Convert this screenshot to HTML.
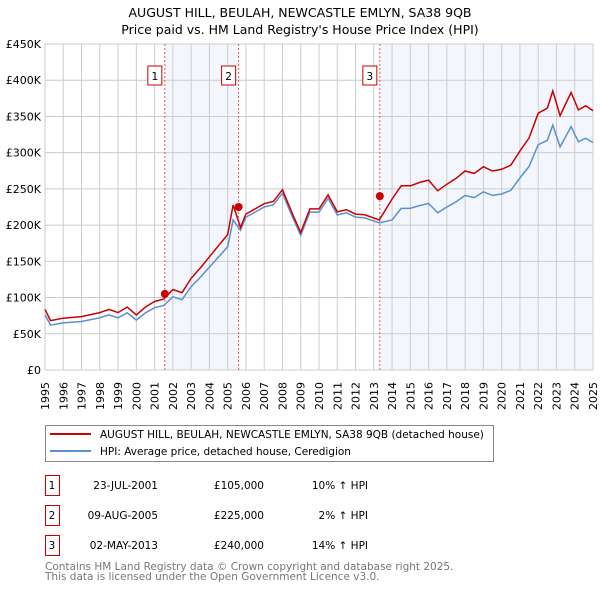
<!DOCTYPE html>
<html><head><meta charset="utf-8"><style>
body{margin:0;background:#fff;font-family:"DejaVu Sans","Liberation Sans",sans-serif;}
svg text{font-family:"DejaVu Sans","Liberation Sans",sans-serif;}
</style></head><body>
<svg id="chart" width="600" height="590" xmlns="http://www.w3.org/2000/svg">
<text x="300" y="17" text-anchor="middle" font-size="12.5">AUGUST HILL, BEULAH, NEWCASTLE EMLYN, SA38 9QB</text>
<text x="300" y="34" text-anchor="middle" font-size="12.5">Price paid vs. HM Land Registry's House Price Index (HPI)</text>
<g id="plot"></g>
<g>
<rect x="45.5" y="425.5" width="448" height="36" fill="#fff" stroke="#888"/>
<line x1="50" y1="434" x2="91" y2="434" stroke="#cc0000" stroke-width="2"/>
<text x="100" y="438" font-size="10.5">AUGUST HILL, BEULAH, NEWCASTLE EMLYN, SA38 9QB (detached house)</text>
<line x1="50" y1="451" x2="91" y2="451" stroke="#5b8fd0" stroke-width="2"/>
<text x="100" y="455" font-size="10.5">HPI: Average price, detached house, Ceredigion</text>
</g>
<g id="table"></g>
<text x="45" y="570" font-size="10.5" fill="#777">Contains HM Land Registry data © Crown copyright and database right 2025.</text>
<text x="45" y="580" font-size="10.5" fill="#777">This data is licensed under the Open Government Licence v3.0.</text>
</svg>
<script>
const hpiYears=[1995,1995.3,1996,1997,1998,1998.5,1999,1999.5,2000,2000.5,2001,2001.5,2002,2002.5,2003,2003.5,2004,2004.5,2005,2005.3,2005.7,2006,2006.5,2007,2007.5,2008,2008.5,2009,2009.5,2010,2010.5,2011,2011.5,2012,2012.5,2013.3,2014,2014.5,2015,2015.5,2016,2016.5,2017,2017.5,2018,2018.5,2019,2019.5,2020,2020.5,2021,2021.5,2022,2022.5,2022.8,2023.2,2023.8,2024.2,2024.6,2025];
const hpiValues=[76,62,65,67,72,76,72,79,69,79,86,89,101,97,115,128,142,156,170,207,193,211,218,225,228,244,214,186,218,218,237,214,217,211,210,203,207,223,223,227,230,217,225,232,241,238,246,241,243,248,265,281,311,317,338,308,336,315,320,314];
const saleLabels=["1","2","3"];
const saleYears=[2001.56,2005.6,2013.33];
const salePrices=[105,225,240];
const saleDates=["23-JUL-2001","09-AUG-2005","02-MAY-2013"];
const salePriceText=["£105,000","£225,000","£240,000"];
const saleHpiText=["10% ↑ HPI","2% ↑ HPI","14% ↑ HPI"];
const premiums=[1.10,1.10,1.02,1.14];
const yTicks=[0,50,100,150,200,250,300,350,400,450];
const yTickLabels=["£0","£50K","£100K","£150K","£200K","£250K","£300K","£350K","£400K","£450K"];
const xTicks=[1995,1996,1997,1998,1999,2000,2001,2002,2003,2004,2005,2006,2007,2008,2009,2010,2011,2012,2013,2014,2015,2016,2017,2018,2019,2020,2021,2022,2023,2024,2025];

const NS="http://www.w3.org/2000/svg";
const X0=45,X1=593,Y0=370,Y1=44;
const xs=y=>X0+(y-1995)/30*(X1-X0);
const ys=v=>Y0-v/450*(Y0-Y1);
const plot=document.getElementById('plot');
function mk(t,a,p){const e=document.createElementNS(NS,t);for(const k in a)e.setAttribute(k,a[k]);(p||plot).appendChild(e);return e;}

let s1=mk('rect',{x:xs(saleYears[0]),y:Y1,width:xs(saleYears[1])-xs(saleYears[0]),height:Y0-Y1,fill:'#eef3fc',opacity:0.7});


let s2=mk('rect',{x:xs(saleYears[2]),y:Y1,width:X1-xs(saleYears[2]),height:Y0-Y1,fill:'#eef3fc',opacity:0.7});



xTicks.forEach(t=>{
 const l=mk('line',{x1:xs(t),x2:xs(t),y1:Y1,y2:Y0,stroke:'#ccc','stroke-width':1});
 
 
 const x=xs(t)+4, y=Y0+12;
 const tx=mk('text',{x:x,y:y,'text-anchor':'end','font-size':11,transform:'rotate(-90 '+x+' '+y+')'});
 tx.textContent=t;
 
 
});
yTicks.forEach((t,i)=>{
 const l=mk('line',{x1:X0,x2:X1,y1:ys(t),y2:ys(t),stroke:'#ccc','stroke-width':1});
 
 
 const tx=mk('text',{x:X0-4,y:ys(t)+4,'text-anchor':'end','font-size':11});
 tx.textContent=yTickLabels[i];
 
 
});
saleYears.forEach((y,i)=>{
 const l=mk('line',{x1:xs(y),x2:xs(y),y1:Y1,y2:Y0,stroke:'#e55','stroke-width':1,'stroke-dasharray':'2,2'});
 
 
 const r=mk('rect',{x:xs(y)-17,y:66,width:14,height:19,fill:'#fff',stroke:'#cc0000'});
 
 
 const tx=mk('text',{x:xs(y)-10,y:80,'text-anchor':'middle','font-size':10.5});
 tx.textContent=saleLabels[i];
 
 
});
function prem(y){let k=0;while(k<saleYears.length&&y>=saleYears[k])k++;return premiums[k];}
const hp=hpiYears.map((y,i)=>xs(y).toFixed(1)+','+ys(hpiValues[i]).toFixed(1)).join(' ');
const rp=hpiYears.map((y,i)=>xs(y).toFixed(1)+','+ys(hpiValues[i]*prem(y)).toFixed(1)).join(' ');
const hl=mk('polyline',{points:hp,fill:'none',stroke:'#5b8fd0','stroke-width':1.5});


const rl=mk('polyline',{points:rp,fill:'none',stroke:'#cc0000','stroke-width':1.5});


saleYears.forEach((y,i)=>{
 const c=mk('circle',{cx:xs(y),cy:ys(salePrices[i]),r:4,fill:'#cc0000'});
 
 
});
const tb=document.getElementById('table');
saleYears.forEach((y,i)=>{
 const yy=475+i*30;
 const r=mk('rect',{x:45.5,y:yy+0.5,width:14,height:20,fill:'#fff',stroke:'#cc0000'},tb);
 
 
 const vals=[[saleLabels[i],52,'middle'],[saleDates[i],158,'end'],[salePriceText[i],264,'end'],[saleHpiText[i],368,'end']];
 vals.forEach(v=>{
  const t=mk('text',{x:v[1],y:yy+14,'text-anchor':v[2],'font-size':10.5},tb);
  t.textContent=v[0];
  
  
 });
});
</script>
</body></html>
